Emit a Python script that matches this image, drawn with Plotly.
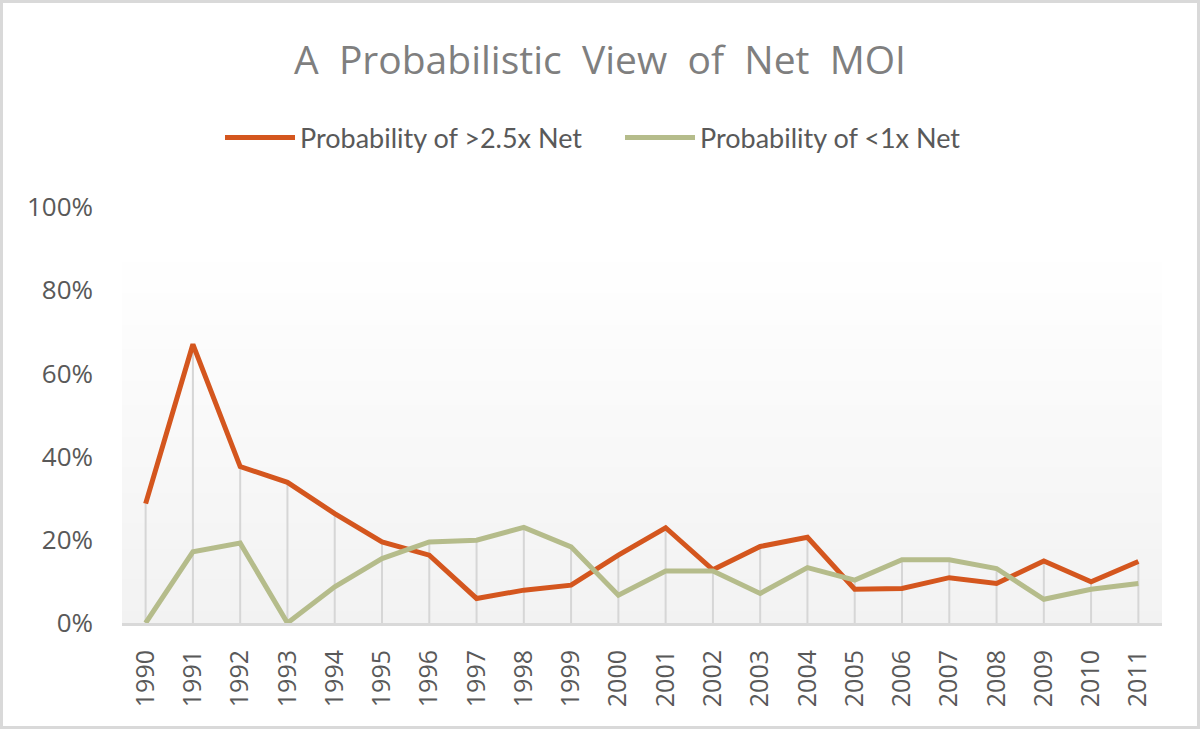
import plotly.graph_objects as go

years = [str(y) for y in range(1990, 2012)]
prob_high = [28.7, 67.0, 37.6, 33.8, 26.3, 19.5, 16.3, 5.9, 7.9, 9.1, 16.3, 22.9,
             12.8, 18.4, 20.6, 8.1, 8.3, 10.9, 9.5, 14.9, 9.9, 14.8]
prob_low = [0.0, 17.1, 19.2, 0.0, 8.7, 15.5, 19.5, 19.9, 23.0, 18.3, 6.7, 12.5,
            12.5, 7.1, 13.3, 10.3, 15.2, 15.2, 13.1, 5.7, 8.1, 9.5]
y_ticks = [0, 20, 40, 60, 80, 100]
y_tick_labels = ["0%", "20%", "40%", "60%", "80%", "100%"]

RED = "#D4561E"
GREEN = "#B5BC8B"
TXT = "#595959"

W, H = 1200, 729
L, R, T, B = 122, 38, 207, 106
PW, PH = W - L - R, H - T - B

# high-low drop lines
dx, dy = [], []
for yr, a, b in zip(years, prob_high, prob_low):
    dx += [yr, yr, None]
    dy += [0, max(a, b), None]

fig = go.Figure()
fig.add_trace(go.Scatter(x=dx, y=dy, mode="lines", line=dict(color="#d6d6d6", width=2),
                         showlegend=False, hoverinfo="skip"))
fig.add_trace(go.Scatter(x=years, y=prob_high, mode="lines", name="Probability of >2.5x Net",
                         line=dict(color=RED, width=5)))
fig.add_trace(go.Scatter(x=years, y=prob_low, mode="lines", name="Probability of <1x Net",
                         line=dict(color=GREEN, width=5)))

# gradient background in plot area
shapes = []
top = 0.897
n = 60
for i in range(n):
    f0 = i / n
    f1 = (i + 1) / n
    t = 1 - (f0 + f1) / 2  # 1 at bottom, 0 at top
    g = int(round(255 - (255 - 242) * t))
    shapes.append(dict(type="rect", xref="x domain", yref="y domain",
                       x0=0, x1=1, y0=top * f0, y1=top * f1 + 0.002,
                       fillcolor=f"rgb({g},{g},{g})", line=dict(width=0), layer="below"))
# outer chart border
shapes.append(dict(type="rect", xref="paper", yref="paper",
                   x0=-(L - 1.5) / PW, x1=1 + (R - 1.5) / PW,
                   y0=-(B - 1.5) / PH, y1=1 + (T - 1.5) / PH,
                   line=dict(color="#d9d9d9", width=3), fillcolor="rgba(0,0,0,0)"))

fig.update_layout(
    width=W, height=H,
    margin=dict(l=L, r=R, t=T, b=B),
    paper_bgcolor="white", plot_bgcolor="rgba(0,0,0,0)",
    title=dict(text="A  Probabilistic  View  of  Net  MOI", x=0.5, xanchor="center",
               y=1 - 60 / H, yanchor="middle",
               font=dict(family="Open Sans", size=39, color="#7f7f7f")),
    legend=dict(orientation="h", x=220 / W, xanchor="left", xref="container",
                y=1 - 138 / H, yref="container",
                yanchor="middle", font=dict(family="Lato", size=27, color=TXT),
                itemwidth=70, entrywidth=315, entrywidthmode="pixels",
                bgcolor="rgba(0,0,0,0)"),
    xaxis=dict(type="category", range=[-0.5, 21.5], tickangle=-90, showgrid=False,
               showline=True, linecolor="#d9d9d9", linewidth=3, ticks="",
               tickfont=dict(family="Open Sans", size=25, color=TXT), ticklabelstandoff=14),
    yaxis=dict(range=[0, 100], tickvals=y_ticks, ticktext=y_tick_labels, showgrid=False,
               zeroline=False, showline=False, ticks="",
               tickfont=dict(family="Open Sans", size=26, color=TXT), ticklabelstandoff=28),
    shapes=shapes,
    hovermode=False,
)

fig.write_html("out.html", post_script="document.body.style.margin='0';",
               config={"displayModeBar": False})
